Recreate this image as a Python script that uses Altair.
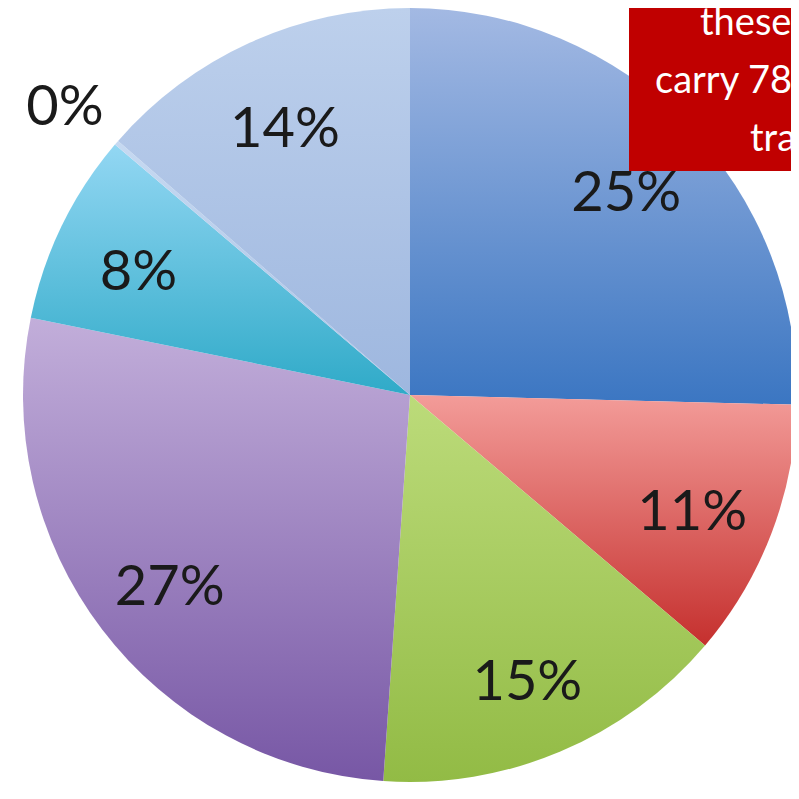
import math
import altair as alt
import pandas as pd

# ---- data ----
slices = ["Slice 1", "Slice 2", "Slice 3", "Slice 4", "Slice 5", "Slice 6", "Slice 7"]
values = [25.4, 10.8, 14.9, 27.1, 8.0, 0.2, 13.6]
labels = ["25%", "11%", "15%", "27%", "8%", "0%", "14%"]
top_colors = ["#A3B9E3", "#F39C99", "#BCDB7A", "#C2AEDA", "#93D7F3", "#C6D9F1", "#BDD0EC"]
bottom_colors = ["#3B76C2", "#C5302E", "#92BB45", "#7757A5", "#2FAAC8", "#A9C2E6", "#9EB7DF"]
note_lines = ["these", "carry 78", "tra"]

df = pd.DataFrame({"slice": slices, "value": values, "label": labels,
                   "order": list(range(len(slices)))})
total = sum(values)

W, H = 783, 776
CX, CY, R = 402, 387, 387

theta_scale = alt.Scale(domain=[0, total], range=[0, 2 * math.pi])

base = (
    alt.Chart(df)
    .transform_window(cum="sum(value)", sort=[alt.SortField("order")], frame=[None, 0])
    .transform_calculate(start="datum.cum - datum.value",
                         mid="datum.cum - datum.value / 2",
                         lr="datum.value < 1 ? 455 : 302")
)

layers = []
for i, s in enumerate(slices):
    grad = alt.Gradient(
        gradient="linear",
        stops=[alt.GradientStop(color=top_colors[i], offset=0),
               alt.GradientStop(color=bottom_colors[i], offset=1)],
        x1=0, x2=0, y1=0, y2=1,
    )
    layers.append(
        base.transform_filter(f"datum.order == {i}")
        .mark_arc(outerRadius=R, fill=grad, stroke=None)
        .encode(
            theta=alt.Theta("start:Q", scale=theta_scale),
            theta2="cum:Q",
            x=alt.value(CX),
            y=alt.value(CY),
        )
    )

text_layer = base.mark_text(
    font="Lato", fontSize=56, color="#1a1a1a", align="center", baseline="middle", dy=10
).encode(
    theta=alt.Theta("mid:Q", scale=theta_scale),
    radius=alt.Radius("lr:Q", scale=None),
    x=alt.value(CX),
    y=alt.value(CY),
    text="label:N",
)

box = alt.Chart(alt.Data(values=[{}])).mark_rect(color="#C00000").encode(
    x=alt.value(621), x2=alt.value(W + 10), y=alt.value(-10), y2=alt.value(163)
)

note_x = [692, 647, 742]
note_y = [27, 85, 143]
note_layers = [
    alt.Chart(alt.Data(values=[{}])).mark_text(
        text=t, font="Lato", fontSize=38, color="white", align="left",
        baseline="alphabetic", clip=True
    ).encode(x=alt.value(x), y=alt.value(y))
    for t, x, y in zip(note_lines, note_x, note_y)
]

chart = alt.layer(*layers, text_layer, box, *note_layers).properties(
    width=W, height=H, autosize="none", padding=0, background="white"
).configure_view(stroke=None)

chart.save("out.html", embed_options={"renderer": "svg", "actions": False})
